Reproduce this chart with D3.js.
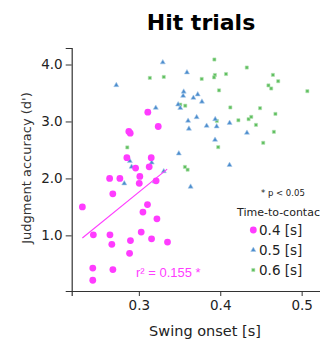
<!DOCTYPE html>
<html>
<head>
<meta charset="utf-8">
<script src="https://cdn.jsdelivr.net/npm/d3@7"></script>
<style>
html,body{margin:0;padding:0;background:#fff;overflow:hidden;}
svg{display:block;font-family:"DejaVu Sans",sans-serif;}
</style>
</head>
<body>
<svg id="chart" width="320" height="341"></svg>
<script>
// ---- data ----
const ttc04X = [0.311,0.3238,0.2877,0.2894,0.2853,0.3152,0.296,0.3127,0.3012,0.2641,0.2767,0.3005,0.3212,0.268,0.2306,0.3106,0.305,0.3222,0.2441,0.2645,0.3029,0.2668,0.2897,0.3156,0.3352,0.2886,0.2434,0.2681,0.2434];
const ttc04Y = [3.163,2.912,2.825,2.795,2.365,2.365,2.181,2.204,2.035,2.0,2.0,1.914,1.958,1.73,1.5,1.54,1.409,1.291,1.01,1.01,1.058,0.842,0.909,0.94,0.882,0.684,0.426,0.40,0.212];
const ttc05X = [0.2723,0.3294,0.3591,0.3551,0.3544,0.3723,0.367,0.3775,0.3483,0.3509,0.3208,0.3605,0.371,0.3938,0.3833,0.3956,0.4115,0.3615,0.4328,0.3936,0.3491,0.4114,0.3636,0.3306,0.3158,0.289,0.2911,0.2821,0.3196];
const ttc05Y = [3.637,4.037,3.861,3.523,3.449,3.474,3.414,3.347,3.298,3.237,3.239,3.011,3.075,3.04,2.923,2.912,2.974,2.872,2.8,2.677,2.437,2.235,1.853,2.125,2.277,2.304,2.204,1.912,1.944];
const ttc06X = [0.3135,0.3306,0.3928,0.4326,0.3772,0.3934,0.3924,0.4071,0.4647,0.4712,0.4592,0.4626,0.507,0.3985,0.3509,0.357,0.4124,0.4489,0.4678,0.4223,0.4348,0.4381,0.3958,0.4439,0.4659,0.4528,0.3975,0.2858,0.3566,0.3599];
const ttc06Y = [3.765,3.782,4.088,3.947,3.747,3.816,3.774,3.833,3.818,3.707,3.633,3.579,3.532,3.546,3.296,3.277,3.246,3.233,3.133,3.021,3.04,3.081,3.009,2.94,2.818,2.625,2.549,2.544,2.202,2.153];
const fitX = [0.2306,0.3348];
const fitY = [0.953,2.163];
const xTicks = [0.3,0.4,0.5];
const yTicks = [1.0,2.0,3.0,4.0];
const legendLabels = ["0.4 [s]","0.5 [s]","0.6 [s]"];
const titleText = "Hit trials";
const xLabel = "Swing onset [s]";
const yLabel = "Judgment accuracy (d')";
const r2Text = "r\u00b2 = 0.155 *";
const sigText = "* p < 0.05";
const legendTitle = "Time-to-contac";

// ---- layout ----
const colors = {m:"#ff3cff", b:"#4a8ccd", g:"#5fbf5f"};
const svg = d3.select("#chart");
const x = d3.scaleLinear().domain([0.2175, 0.525]).range([71.7, 322]);
const y = d3.scaleLinear().domain([0.023, 4.29]).range([291, 48]);

// axes
const xAxis = svg.append("g").attr("transform","translate(0,291)")
  .call(d3.axisBottom(x).tickValues(xTicks).tickFormat(d3.format(".1f")).tickSizeOuter(0).tickSize(5).tickPadding(4));
const yAxis = svg.append("g").attr("transform","translate(71.7,0)")
  .call(d3.axisLeft(y).tickValues(yTicks).tickFormat(d3.format(".1f")).tickSizeOuter(0).tickSize(6).tickPadding(3));
[xAxis,yAxis].forEach(a=>{
  a.select(".domain").attr("stroke","#333").attr("stroke-width",1.2);
  a.selectAll(".tick line").attr("stroke","#333").attr("stroke-width",1);
  a.selectAll(".tick text").attr("font-family","DejaVu Sans").attr("font-size",13.5).attr("fill","#222");
});

// points
const g = svg.append("g");
const d04 = ttc04X.map((v,i)=>[v,ttc04Y[i]]);
const d05 = ttc05X.map((v,i)=>[v,ttc05Y[i]]);
const d06 = ttc06X.map((v,i)=>[v,ttc06Y[i]]);

g.selectAll(".sq").data(d06).join("path")
  .attr("d", d3.symbol(d3.symbolSquare, 10)())
  .attr("transform", d=>`translate(${x(d[0])},${y(d[1])})`)
  .attr("fill", colors.g).attr("stroke","#b5e3b5").attr("stroke-width",0.6);
g.selectAll(".tri").data(d05).join("path")
  .attr("d", d3.symbol(d3.symbolTriangle, 11)())
  .attr("transform", d=>`translate(${x(d[0])},${y(d[1])})`)
  .attr("fill", colors.b).attr("stroke","#a9c9ea").attr("stroke-width",0.6);
g.selectAll(".circ").data(d04).join("circle")
  .attr("cx", d=>x(d[0])).attr("cy", d=>y(d[1])).attr("r",3.4)
  .attr("fill", colors.m);

// regression line
svg.append("path")
  .attr("d", d3.line().x(d=>x(d[0])).y(d=>y(d[1]))(fitX.map((v,i)=>[v,fitY[i]])))
  .attr("stroke", colors.m).attr("stroke-width",1.1).attr("fill","none");

svg.append("text").attr("x",136).attr("y",277)
  .attr("font-family","Liberation Sans, Arial, sans-serif").attr("font-size",13)
  .attr("fill",colors.m).text(r2Text);

// title
svg.append("text").attr("x",201).attr("y",30).attr("text-anchor","middle")
  .attr("font-family","DejaVu Sans").attr("font-weight","bold").attr("font-size",22)
  .attr("fill","#000").text(titleText);

// axis labels
svg.append("text").attr("x",205).attr("y",336).attr("text-anchor","middle")
  .attr("font-size",14.5).attr("fill","#222").text(xLabel);
svg.append("text").attr("transform","translate(31,168) rotate(-90)").attr("text-anchor","middle")
  .attr("font-size",13).attr("fill","#333").text(yLabel);

// legend
svg.append("text").attr("x",261).attr("y",196).attr("font-size",8.5).attr("fill","#222").text(sigText);
svg.append("text").attr("x",237).attr("y",216).attr("font-size",11).attr("fill","#222").text(legendTitle);
const lg = svg.append("g");
const legendY = [230,250,270];
lg.append("circle").attr("cx",253.3).attr("cy",legendY[0]).attr("r",3.4).attr("fill",colors.m);
lg.append("path").attr("d", d3.symbol(d3.symbolTriangle, 11)())
  .attr("transform",`translate(253.3,${legendY[1]})`).attr("fill",colors.b).attr("stroke","#a9c9ea").attr("stroke-width",0.6);
lg.append("path").attr("d", d3.symbol(d3.symbolSquare, 10)())
  .attr("transform",`translate(253.3,${legendY[2]})`).attr("fill",colors.g).attr("stroke","#b5e3b5").attr("stroke-width",0.6);
lg.selectAll(".lt").data(legendLabels).join("text")
  .attr("x",259).attr("y",(d,i)=>legendY[i]+5).attr("font-size",13.5).attr("fill","#222").text(d=>d);
</script>
</body>
</html>
